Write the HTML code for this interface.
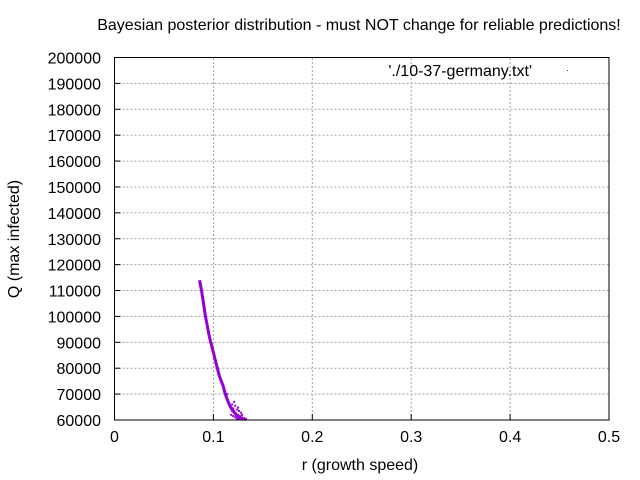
<!DOCTYPE html>
<html><head><meta charset="utf-8"><style>
body{margin:0;background:#fff}
svg{display:block;font-family:"Liberation Sans",sans-serif}
</style></head><body>
<svg id="c" width="640" height="480" viewBox="0 0 640 480">
<text x="359" y="30" font-size="16" text-anchor="middle">Bayesian posterior distribution - must NOT change for reliable predictions!</text>
<g id="grid"></g>
<g id="axes"></g>
<g id="pts"></g>
<rect x="114.5" y="57.5" width="494.5" height="362.5" fill="none" stroke="#000" stroke-width="1"/>
<text x="532" y="76" font-size="16" text-anchor="end">'./10-37-germany.txt'</text>
<rect x="567" y="70" width="1" height="1" fill="#9400d3"/>
<text x="360" y="470" font-size="16" text-anchor="middle">r (growth speed)</text>
<text transform="translate(19,239) rotate(-90)" font-size="16" text-anchor="middle">Q (max infected)</text>
</svg>
<script>
const xTicks=[0,0.1,0.2,0.3,0.4,0.5];
const xTickLabels=["0","0.1","0.2","0.3","0.4","0.5"];
const yTicks=[60000,70000,80000,90000,100000,110000,120000,130000,140000,150000,160000,170000,180000,190000,200000];
const spineR=[0.086,0.088,0.090,0.092,0.094,0.096,0.098,0.100,0.102,0.104,0.106,0.108,0.110,0.112,0.114,0.116,0.118,0.120,0.122,0.124,0.126,0.128,0.130];
const spineQ=[114000,110000,105000,100000,96000,92000,89000,86000,83000,80000,77000,75000,73000,70000,68000,66000,64500,63500,62500,61500,61000,60500,60200];
const clusterR=[0.118,0.120,0.122,0.124,0.126,0.128,0.130,0.132,0.119,0.121,0.123,0.125,0.127,0.129,0.131,0.117,0.120,0.124,0.128,0.116,0.122,0.126,0.115,0.119,0.113,0.121,0.125,0.129,0.133,0.111,0.114];
const clusterQ=[62000,61500,61000,60500,60500,60300,60200,60100,63500,63000,62500,62000,61500,61000,60700,65000,64500,64000,62800,66500,65500,63500,67500,66000,69000,67000,64800,62000,60400,71000,70000];
const X0=114.5,X1=609,Y0=420,Y1=57.5;
const sx=v=>X0+(v-0)/(0.5)*(X1-X0);
const sy=v=>Y0-(v-60000)/(140000)*(Y0-Y1);
const NS="http://www.w3.org/2000/svg";
const grid=document.getElementById('grid'),axes=document.getElementById('axes'),pts=document.getElementById('pts');
function mk(t,a,p){const e=document.createElementNS(NS,t);for(const k in a)e.setAttribute(k,a[k]);p.appendChild(e);return e;}
xTicks.forEach((v,i)=>{
 const x=sx(v);
 if(i>0&&i<xTicks.length-1){const g=mk('line',{x1:x,x2:x,y1:Y0,y2:Y1,stroke:'#a0a0a0','stroke-dasharray':'2,2'},grid);
 
 }
 const t=mk('line',{x1:x,x2:x,y1:Y0,y2:Y0-6,stroke:'#000'},axes);
 
 
 const l=mk('text',{x:x,y:442,'font-size':16,'text-anchor':'middle'},axes);l.textContent=xTickLabels[i];
 
 
});
yTicks.forEach((v,i)=>{
 const y=sy(v);
 if(i>0&&i<yTicks.length-1){const g=mk('line',{x1:X0,x2:X1,y1:y,y2:y,stroke:'#a0a0a0','stroke-dasharray':'2,2'},grid);
 
 }
 const t=mk('line',{x1:X0,x2:X0+6,y1:y,y2:y,stroke:'#000'},axes);
 
 
 const l=mk('text',{x:101,y:y+6,'font-size':16,'text-anchor':'end'},axes);l.textContent=String(v);
 
 
});
const pl=mk('polyline',{points:spineR.map((r,i)=>sx(r)+','+sy(spineQ[i])).join(' '),fill:'none',stroke:'#9400d3','stroke-width':3},pts);


clusterR.forEach((r,i)=>{
 const q=clusterQ[i];
 if(q<60000)return;
 const p=mk('rect',{x:sx(r)-1,y:sy(q)-1,width:2,height:2,fill:'#9400d3'},pts);
 
 
});
</script>
</body></html>
